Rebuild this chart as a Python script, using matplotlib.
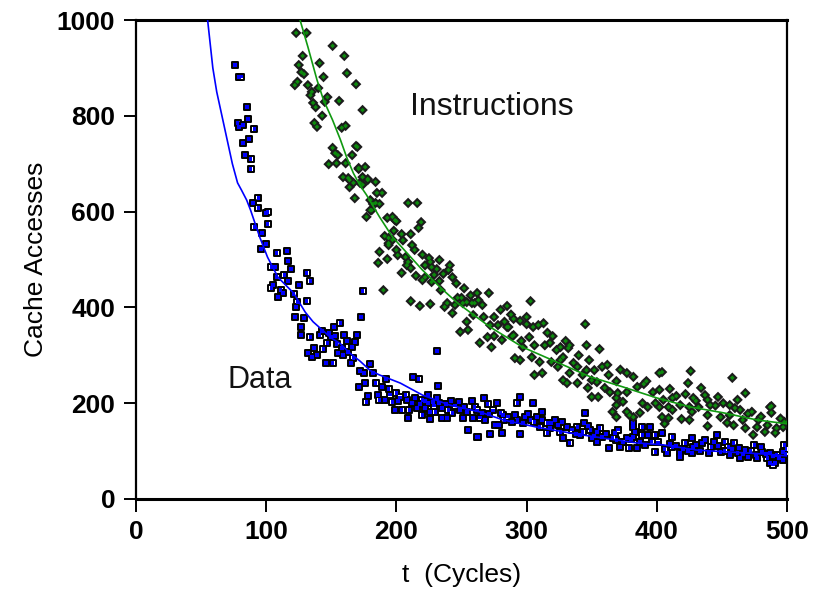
import matplotlib
matplotlib.use("Agg")
import matplotlib.pyplot as plt
import numpy as np

# ---------------- data ----------------
data_t = [76, 79, 81, 85, 78, 79, 82, 86, 91, 82, 87, 84, 88, 88, 94,
          90, 94, 100, 101, 91, 101, 97, 96, 100, 108, 116, 117, 104, 107, 119,
          131, 114, 108, 134, 117, 105, 125, 104, 111, 113, 109, 121, 124, 131, 123,
          122, 129, 127, 152, 157, 127, 134, 141, 150, 160, 170, 168, 147, 154, 137,
          144, 132, 139, 135, 155, 159, 163, 167, 146, 151, 165, 174, 173, 180, 172,
          175, 182, 176, 184, 171, 231, 189, 194, 192, 213, 217, 232, 178, 177, 186,
          187, 191, 200, 201, 197, 207, 208, 214, 220, 224, 224, 228, 231, 199, 204,
          210, 216, 222, 220, 226, 230, 209, 226, 235, 235, 240, 243, 248, 249, 251,
          254, 258, 259, 255, 262, 239, 267, 260, 270, 277, 264, 268, 276, 282, 283,
          279, 293, 295, 291, 293, 299, 303, 305, 308, 312, 312, 316, 319, 324, 331,
          263, 272, 281, 295, 316, 326, 328, 333, 339, 344, 345, 341, 349, 350, 354,
          354, 358, 363, 368, 369, 372, 377, 379, 382, 383, 385, 382, 389, 395, 382,
          389, 393, 399, 404, 399, 408, 412, 412, 418, 418, 422, 427, 427, 428, 435,
          437, 442, 444, 446, 449, 452, 455, 456, 459, 463, 464, 468, 475, 470, 477,
          481, 485, 487, 491, 492, 497, 497, 498, 487, 489,
          245, 252, 262, 266, 271, 274, 280, 286, 289, 297, 301, 306, 310, 318, 322,
          327, 335, 338, 343, 347, 352, 356, 361, 366, 370, 374, 380, 387, 391, 396,
          401, 406, 410, 415, 420, 424, 430, 433, 440, 447, 452, 458, 462, 466, 472,
          476, 480, 484, 489, 494, 499, 500,
          195, 203, 212, 218, 222, 229, 233, 238, 242, 143, 148, 153, 162, 166, 158]
data_y = [906, 881, 882, 818, 785, 777, 781, 793, 772, 743, 752, 718, 710, 689, 628,
          618, 607, 597, 599, 568, 574, 555, 522, 532, 514, 518, 497, 484, 484, 480,
          472, 468, 463, 455, 455, 447, 447, 441, 436, 430, 422, 428, 411, 413, 401,
          380, 378, 359, 359, 367, 342, 338, 342, 338, 342, 342, 328, 326, 324, 315,
          313, 305, 301, 296, 305, 301, 307, 294, 284, 284, 284, 434, 380, 282, 267,
          263, 263, 242, 242, 234, 309, 234, 230, 251, 255, 251, 236, 215, 203, 217,
          207, 207, 221, 205, 203, 217, 207, 211, 207, 217, 200, 203, 211, 186, 186,
          186, 190, 190, 175, 182, 182, 169, 167, 190, 169, 186, 180, 203, 186, 169,
          182, 205, 169, 144, 129, 169, 211, 192, 198, 200, 170, 165, 154, 175, 165,
          155, 200, 213, 175, 165, 171, 165, 200, 171, 182, 165, 159, 159, 154, 150,
          129, 136, 138, 136, 138, 140, 127, 117, 150, 159, 180, 134, 144, 127, 140,
          119, 129, 106, 138, 123, 109, 127, 106, 159, 140, 106, 150, 150, 150, 129,
          134, 134, 134, 138, 98, 96, 129, 109, 96, 88, 117, 127, 96, 109, 117,
          123, 109, 119, 134, 98, 119, 109, 92, 117, 106, 86, 102, 113, 88, 86,
          98, 86, 96, 75, 92, 98, 81, 113, 75, 72,
          195, 192, 185, 180, 178, 185, 180, 172, 160, 158, 178, 160, 150, 148, 165,
          160, 145, 135, 140, 152, 132, 148, 135, 128, 145, 118, 125, 120, 112, 120,
          118, 105, 115, 110, 104, 100, 112, 100, 96, 110, 100, 104, 96, 94, 100,
          92, 108, 94, 90, 86, 95, 105,
          218, 212, 200, 198, 205, 195, 200, 198, 205, 350, 346, 340, 330, 318, 315]

instr_t = [123, 131, 151, 160, 128, 141, 125, 127, 129, 144, 162, 169, 124, 122, 132,
           135, 140, 134, 147, 145, 156, 136, 138, 143, 137, 139, 158, 161, 170, 151,
           153, 155, 166, 148, 154, 161, 171, 159, 163, 167, 164, 168, 174, 209, 216,
           219, 217, 211, 214, 204, 193, 199, 191, 194, 187, 200, 201, 207, 177, 180,
           184, 187, 180, 185, 189, 184, 178, 174, 176, 171, 172, 169, 164, 174, 178,
           182, 181, 197, 200, 194, 197, 194, 186, 193, 209, 208, 225, 233, 222, 227,
           241, 211, 204, 215, 222, 229, 240, 243, 220, 227, 233, 190, 234, 262, 271,
           211, 218, 226, 239, 245, 250, 254, 260, 285, 303, 290, 300, 283, 286, 305,
           309, 313, 316, 290, 302, 345, 258, 263, 259, 267, 275, 272, 278, 285, 270,
           275, 264, 273, 281, 289, 296, 297, 306, 314, 318, 323, 326, 332, 333, 346,
           356, 291, 295, 304, 310, 319, 326, 328, 336, 339, 346, 352, 358, 333, 343,
           324, 306, 312, 328, 331, 339, 350, 354, 363, 369, 377, 382, 347, 360, 364,
           370, 377, 385, 350, 355, 369, 374, 369, 366, 377, 379, 369, 392, 404, 426,
           424, 458, 468, 397, 402, 422, 434, 428, 437, 439, 447, 462, 389, 399, 405,
           412, 393, 402, 409, 418, 425, 432, 441, 451, 456, 412, 427, 439, 464, 473,
           487, 488, 387, 382, 404, 409, 419, 425, 449, 456, 454, 459, 466, 468, 478,
           477, 485, 474, 483, 491, 492, 497, 498, 439, 406, 237, 247, 251, 249, 255,
           243, 254, 402, 488,
           198, 205, 212, 220, 226, 231, 236, 246, 252, 257, 266, 280, 288, 295, 300,
           320, 330, 340, 348, 362, 372, 390, 410, 415, 430, 445, 460, 470, 480, 495,
           500]
instr_y = [973, 973, 946, 925, 925, 910, 906, 891, 887, 881, 889, 866, 871, 864, 864,
           850, 858, 843, 839, 829, 831, 827, 818, 800, 785, 777, 775, 779, 735, 733,
           722, 718, 718, 699, 701, 701, 691, 672, 670, 660, 651, 628, 812, 618, 618,
           578, 566, 553, 520, 553, 587, 582, 549, 534, 516, 520, 509, 505, 589, 603,
           618, 616, 624, 639, 639, 662, 666, 672, 693, 689, 660, 737, 666, 656, 668,
           616, 603, 589, 580, 545, 541, 530, 493, 501, 495, 488, 503, 499, 488, 484,
           488, 482, 472, 466, 463, 468, 478, 463, 457, 453, 455, 436, 436, 430, 430,
           413, 403, 407, 409, 405, 420, 411, 409, 403, 413, 376, 380, 370, 359, 359,
           363, 367, 347, 342, 338, 365, 409, 415, 384, 380, 380, 363, 363, 359, 338,
           340, 326, 317, 332, 340, 330, 317, 321, 321, 326, 311, 317, 315, 321, 321,
           313, 294, 290, 296, 286, 286, 290, 296, 284, 276, 269, 269, 276, 263, 259,
           276, 259, 263, 248, 242, 242, 248, 244, 259, 246, 263, 255, 232, 232, 223,
           221, 223, 234, 213, 213, 211, 203, 196, 182, 182, 175, 171, 246, 265, 267,
           242, 253, 221, 223, 228, 219, 232, 211, 217, 207, 213, 207, 200, 200, 207,
           211, 192, 192, 192, 196, 192, 192, 196, 200, 196, 186, 182, 175, 186, 182,
           192, 180, 180, 171, 171, 169, 167, 165, 171, 175, 159, 154, 165, 148, 165,
           150, 154, 134, 140, 138, 148, 150, 161, 152, 157, 401, 420, 409, 349, 353,
           388, 370, 263, 194,
           560, 540, 530, 510, 495, 480, 470, 450, 440, 425, 405, 395, 385, 372, 365,
           340, 330, 300, 290, 280, 270, 240, 230, 215, 205, 195, 190, 178, 172, 168,
           160]

data_fit_t = [55, 59, 62, 66, 70, 74, 78, 81, 85, 88, 95, 101, 109, 121, 130, 136,
              143, 150, 157, 164, 172, 180, 187, 203, 220, 241, 257, 264, 282, 308,
              333, 359, 385, 405, 431, 456, 482, 500]
data_fit_y = [1000, 900, 850, 800, 750, 700, 660, 645, 624, 603, 547, 505, 463, 430,
              390, 370, 353, 336, 324, 305, 288, 268, 259, 242, 217, 196, 186, 182,
              165, 150, 138, 127, 117, 113, 102, 98, 94, 90]

instr_fit_t = [126, 132, 139, 144, 151, 157, 162, 167, 172, 177, 187, 197, 208, 220,
               234, 247, 272, 297, 323, 349, 374, 400, 426, 451, 477, 500]
instr_fit_y = [1000, 944, 875, 833, 791, 750, 712, 680, 655, 635, 589, 547, 514, 478,
               441, 409, 359, 317, 286, 255, 234, 211, 192, 180, 165, 157]

x_ticks = [0, 100, 200, 300, 400, 500]
y_ticks = [0, 200, 400, 600, 800, 1000]

# ---------------- figure ----------------
plt.rcParams['font.family'] = ['Liberation Sans', 'DejaVu Sans']
fig = plt.figure(figsize=(8.13, 5.94), dpi=100)
ax = fig.add_axes([136 / 813, 1 - 499 / 594, (787 - 136) / 813, (499 - 20) / 594])

# Data: black-edged white squares with blue centre
ax.scatter(data_t, data_y, marker='s', s=4.8 ** 2, facecolor='white',
           edgecolor='black', linewidths=1.4, zorder=3)
ax.scatter(data_t, data_y, marker='s', s=2.7 ** 2, facecolor='#0000ff',
           edgecolor='none', zorder=4)

# Instructions: dark diamonds with green centre
ax.scatter(instr_t, instr_y, marker='D', s=5.4 ** 2, facecolor='#1c1c1c',
           edgecolor='none', zorder=5)
ax.scatter(instr_t, instr_y, marker='D', s=2.4 ** 2, facecolor='#0c8a0c',
           edgecolor='none', zorder=6)

ax.plot(data_fit_t, data_fit_y, color='#0000ff', lw=1.2, zorder=7)
ax.plot(instr_fit_t, instr_fit_y, color='#119911', lw=1.2, zorder=7)

ax.text(273, 818, 'Instructions', fontsize=23, ha='center', va='center', color='#111111')
ax.text(95, 248, 'Data', fontsize=22, ha='center', va='center', color='#111111')

ax.set_xlim(0, 500)
ax.set_ylim(0, 1000)
ax.set_xticks(x_ticks)
ax.set_yticks(y_ticks)
ax.set_xticklabels([str(v) for v in x_ticks], fontsize=19, fontweight='bold')
ax.set_yticklabels([str(v) for v in y_ticks], fontsize=19, fontweight='bold')
ax.tick_params(axis='both', direction='out', length=9, width=1.4, color='black', pad=6)

for side in ['left', 'right']:
    ax.spines[side].set_linewidth(1.6)
for side in ['top', 'bottom']:
    ax.spines[side].set_linewidth(2.2)

ax.set_xlabel('t  (Cycles)', fontsize=19, labelpad=14)
ax.set_ylabel('Cache Accesses', fontsize=19, labelpad=6)

fig.savefig('out.png', dpi=100)
